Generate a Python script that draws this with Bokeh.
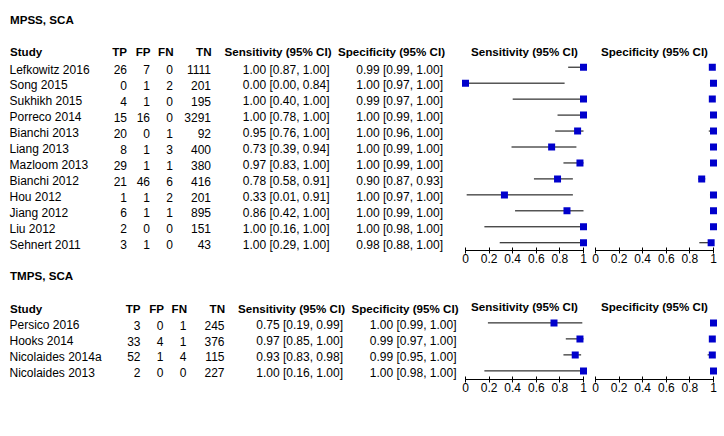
from bokeh.plotting import figure
from bokeh.layouts import row, column
from bokeh.models import Range1d, FixedTicker, CustomJSTickFormatter
from bokeh.embed import file_html
from bokeh.resources import INLINE
from bokeh.core.properties import value

# ---------------- data ----------------
mpss_title = "MPSS, SCA"
mpss_study = ["Lefkowitz 2016", "Song 2015", "Sukhikh 2015", "Porreco 2014", "Bianchi 2013",
              "Liang 2013", "Mazloom 2013", "Bianchi 2012", "Hou 2012", "Jiang 2012",
              "Liu 2012", "Sehnert 2011"]
mpss_tp = [26, 0, 4, 15, 20, 8, 29, 21, 1, 6, 2, 3]
mpss_fp = [7, 1, 1, 16, 0, 1, 1, 46, 1, 1, 0, 1]
mpss_fn = [0, 2, 0, 0, 1, 3, 1, 6, 2, 1, 0, 0]
mpss_tn = [1111, 201, 195, 3291, 92, 400, 380, 416, 201, 895, 151, 43]
mpss_sens = [1.00, 0.00, 1.00, 1.00, 0.95, 0.73, 0.97, 0.78, 0.33, 0.86, 1.00, 1.00]
mpss_sens_lo = [0.87, 0.00, 0.40, 0.78, 0.76, 0.39, 0.83, 0.58, 0.01, 0.42, 0.16, 0.29]
mpss_sens_hi = [1.00, 0.84, 1.00, 1.00, 1.00, 0.94, 1.00, 0.91, 0.91, 1.00, 1.00, 1.00]
mpss_spec = [0.99, 1.00, 0.99, 1.00, 1.00, 1.00, 1.00, 0.90, 1.00, 1.00, 1.00, 0.98]
mpss_spec_lo = [0.99, 0.97, 0.97, 0.99, 0.96, 0.99, 0.99, 0.87, 0.97, 0.99, 0.98, 0.88]
mpss_spec_hi = [1.00, 1.00, 1.00, 1.00, 1.00, 1.00, 1.00, 0.93, 1.00, 1.00, 1.00, 1.00]

tmps_title = "TMPS, SCA"
tmps_study = ["Persico 2016", "Hooks 2014", "Nicolaides 2014a", "Nicolaides 2013"]
tmps_tp = [3, 33, 52, 2]
tmps_fp = [0, 4, 1, 0]
tmps_fn = [1, 1, 4, 0]
tmps_tn = [245, 376, 115, 227]
tmps_sens = [0.75, 0.97, 0.93, 1.00]
tmps_sens_lo = [0.19, 0.85, 0.83, 0.16]
tmps_sens_hi = [0.99, 1.00, 0.98, 1.00]
tmps_spec = [1.00, 0.99, 0.99, 1.00]
tmps_spec_lo = [0.99, 0.97, 0.95, 0.98]
tmps_spec_hi = [1.00, 1.00, 1.00, 1.00]

col_headers = ["Study", "TP", "FP", "FN", "TN", "Sensitivity (95% CI)", "Specificity (95% CI)"]
panel_headers = ["Sensitivity (95% CI)", "Specificity (95% CI)"]
tick_vals = [0, 0.2, 0.4, 0.6, 0.8, 1]
tick_labels = ["0", "0.2", "0.4", "0.6", "0.8", "1"]

# ---------------- styling / layout ----------------
FONT = "Liberation Sans"
MARK = "#0000cc"
U = 118.0  # pixels per unit on the forest axes

BOLD = dict(text_font=value(FONT), text_font_size=value("11.6px"), text_font_style="bold",
            text_color="#000000", text_baseline="middle")
REG = dict(text_font=value(FONT), text_font_size=value("12px"), text_font_style="normal",
           text_color="#000000", text_baseline="middle")

# table figure uses image pixel coordinates
T = figure(width=459, height=409, x_range=Range1d(0, 459), y_range=Range1d(409, 0),
           output_backend="svg", toolbar_location=None, min_border=0,
           x_axis_location=None, y_axis_location=None, title=None)
T.grid.visible = False
T.outline_line_color = None


def fmt_ci(v, lo, hi):
    return ["%.2f [%.2f, %.2f]" % (a, b, c) for a, b, c in zip(v, lo, hi)]


def add_table(p, title, studies, tp, fp, fn, tn, se, se_lo, se_hi, sp, sp_lo, sp_hi,
              title_y, head_y, row_y0, pitch, shift):
    n = len(studies)
    ys = [row_y0 + pitch * i for i in range(n)]
    p.text(x=[9.5], y=[title_y], text=[title], text_align="left", **BOLD)
    p.text(x=[9.5], y=[head_y], text=[col_headers[0]], text_align="left", **BOLD)
    head_x = [126.5, 150, 173, 211, 331, 444.5]
    val_x = [126.5, 149.5, 172.5, 210.5, 329, 442.5]
    for hx, h in zip(head_x, col_headers[1:]):
        p.text(x=[hx + shift], y=[head_y], text=[h], text_align="right", **BOLD)
    p.text(x=[9] * n, y=ys, text=studies, text_align="left", **REG)
    cols = [[str(v) for v in tp], [str(v) for v in fp], [str(v) for v in fn],
            [str(v) for v in tn], fmt_ci(se, se_lo, se_hi), fmt_ci(sp, sp_lo, sp_hi)]
    for vx, c in zip(val_x, cols):
        p.text(x=[vx + shift] * n, y=ys, text=c, text_align="right", **REG)


add_table(T, mpss_title, mpss_study, mpss_tp, mpss_fp, mpss_fn, mpss_tn,
          mpss_sens, mpss_sens_lo, mpss_sens_hi, mpss_spec, mpss_spec_lo, mpss_spec_hi,
          title_y=18.5, head_y=51, row_y0=69, pitch=15.94, shift=0)
add_table(T, tmps_title, tmps_study, tmps_tp, tmps_fp, tmps_fn, tmps_tn,
          tmps_sens, tmps_sens_lo, tmps_sens_hi, tmps_spec, tmps_spec_lo, tmps_spec_hi,
          title_y=275, head_y=307.7, row_y0=324.6, pitch=15.9, shift=13.5)


def make_panel(width, pad_l, pad_r, frame_top, frame_bot, row0, pitch, header, v, lo, hi):
    h = int(round(frame_bot - frame_top)) + 30
    xr = Range1d(-pad_l / U, 1 + pad_r / U)
    yr = Range1d((frame_bot - row0) / pitch, (frame_top - row0) / pitch)
    p = figure(width=width, height=h, x_range=xr, y_range=yr, output_backend="svg",
               toolbar_location=None, min_border=0, min_border_bottom=30,
               x_axis_location="below", y_axis_location=None, title=None)
    p.grid.visible = False
    p.outline_line_color = None
    ax = p.xaxis[0]
    ax.ticker = FixedTicker(ticks=tick_vals)
    ax.formatter = CustomJSTickFormatter(
        args=dict(vals=tick_vals, labels=tick_labels),
        code="const i = vals.indexOf(tick); return i >= 0 ? labels[i] : String(tick);")
    ax.bounds = (0, 1)
    ax.minor_tick_line_color = None
    ax.major_tick_in = 3
    ax.major_tick_out = 3
    ax.major_label_standoff = 0
    ax.axis_line_color = "#000000"
    ax.major_tick_line_color = "#000000"
    ax.major_label_text_font = FONT
    ax.major_label_text_font_size = "12px"
    ax.major_label_text_color = "#000000"
    rows = list(range(len(v)))
    p.segment(x0=lo, y0=rows, x1=hi, y1=rows, line_color="#000000", line_width=1)
    p.scatter(x=v, y=rows, marker="square", size=7, fill_color=MARK, line_color=None)
    p.text(x=[0.5], y=[-1], text=[header], text_align="center", **BOLD)
    return p


S1 = make_panel(130, 6, 6, 0, 250, 66.7, 15.96, panel_headers[0], mpss_sens, mpss_sens_lo, mpss_sens_hi)
P1 = make_panel(130, 6, 6, 0, 250, 66.7, 15.96, panel_headers[1], mpss_spec, mpss_spec_lo, mpss_spec_hi)
S2 = make_panel(130, 6, 6, 280, 379, 322.4, 16.0, panel_headers[0], tmps_sens, tmps_sens_lo, tmps_sens_hi)
P2 = make_panel(130, 6, 6, 280, 379, 322.4, 16.0, panel_headers[1], tmps_spec, tmps_spec_lo, tmps_spec_hi)

layout = row(T, column(row(S1, P1), row(S2, P2)))
open("out.html", "w").write(file_html(layout, INLINE))
